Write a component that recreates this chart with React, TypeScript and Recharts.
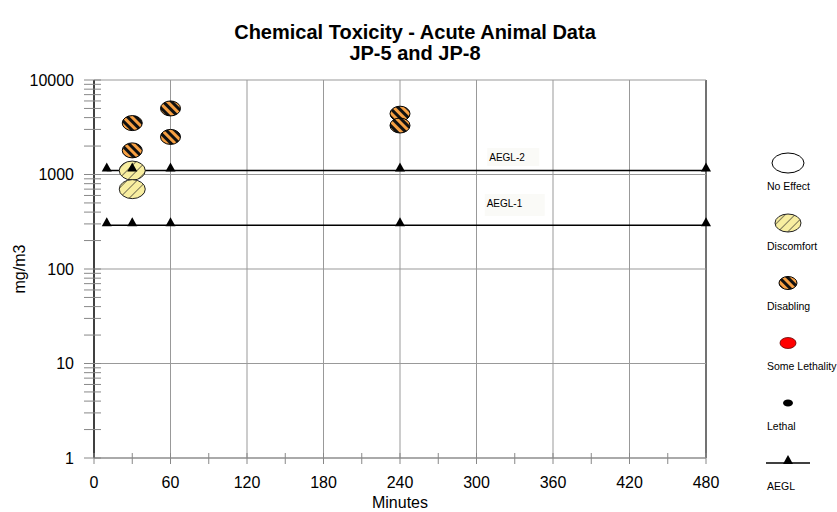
import React from "react";
import {
  ComposedChart,
  Scatter,
  Line,
  XAxis,
  YAxis,
  ReferenceLine,
  ReferenceDot,
} from "recharts";

// minutes / mg/m3
const aeglTimes = [10, 30, 60, 240, 480];
const aegl2Values = [1100, 1100, 1100, 1100, 1100];
const aegl1Values = [290, 290, 290, 290, 290];

const discomfortTimes = [30, 30];
const discomfortValues = [1100, 700];

const disablingTimes = [30, 30, 60, 60, 240, 240];
const disablingValues = [3500, 1800, 5000, 2500, 4400, 3300];

const xTicks = [0, 30, 60, 90, 120, 150, 180, 210, 240, 270, 300, 330, 360, 390, 420, 450, 480];
const xLabelTicks = [0, 60, 120, 180, 240, 300, 360, 420, 480];
const yMajorTicks = [1, 10, 100, 1000, 10000];
const yMinorSteps = [2, 3, 4, 5, 6, 7, 8, 9];

const legendNames = ["No Effect", "Discomfort", "Disabling", "Some Lethality", "Lethal", "AEGL"];

const aeglLabels = [
  { name: "AEGL-2", x: 310, y: 1530 },
  { name: "AEGL-1", x: 308, y: 500 },
];

const yTicks = yMajorTicks.flatMap((d) =>
  d < 10000 ? [d, ...yMinorSteps.map((s) => d * s)] : [d]
);

const zip = (xs: number[], ys: number[]) => xs.map((x, i) => ({ x, y: ys[i] }));
const aegl2Data = zip(aeglTimes, aegl2Values);
const aegl1Data = zip(aeglTimes, aegl1Values);
const discomfortData = zip(discomfortTimes, discomfortValues);
const disablingData = zip(disablingTimes, disablingValues);

const FONT = "Arial, 'Liberation Sans', sans-serif";

const Patterns = () => (
  <svg width={0} height={0} style={{ position: "absolute" }}>
    <defs>
      <pattern id="disablingFill" width={6} height={6} patternUnits="userSpaceOnUse" patternTransform="rotate(-45)">
        <rect width={6} height={6} fill="#f7a043" />
        <rect width={3} height={6} fill="#111" />
      </pattern>
      <pattern id="discomfortFill" width={7} height={7} patternUnits="userSpaceOnUse" patternTransform="rotate(45)">
        <rect width={7} height={7} fill="#f8eea0" />
        <rect width={1} height={7} fill="#7d7758" />
      </pattern>
    </defs>
  </svg>
);

const Disabling = ({ cx, cy }: any) => (
  <ellipse cx={cx} cy={cy} rx={10} ry={7.5} fill="url(#disablingFill)" stroke="#000" strokeWidth={1} />
);

const Discomfort = ({ cx, cy }: any) => (
  <ellipse cx={cx} cy={cy} rx={13} ry={9.5} fill="url(#discomfortFill)" stroke="#222" strokeWidth={1} />
);

const Triangle = ({ cx, cy }: any) => {
  if (cx == null || cy == null) return null;
  return <path d={`M${cx - 5},${cy + 1} L${cx + 5},${cy + 1} L${cx},${cy - 8} Z`} fill="#000" />;
};

const YTick = ({ x, y, payload }: any) => {
  const major = yMajorTicks.includes(payload.value);
  return (
    <g>
      <line x1={x - 10} x2={x + 7} y1={y} y2={y} stroke="#888" strokeWidth={1} />
      {major && (
        <text x={x - 20} y={y} dy={5.5} textAnchor="end" fontSize={16} fontFamily={FONT} fill="#000">
          {payload.value}
        </text>
      )}
    </g>
  );
};

const XTick = ({ x, y, payload }: any) => {
  const major = xLabelTicks.includes(payload.value);
  return (
    <g>
      <line x1={x} x2={x} y1={y - 5} y2={y + 6} stroke="#888" strokeWidth={1} />
      {major && (
        <text x={x} y={y + 30} textAnchor="middle" fontSize={16} fontFamily={FONT} fill="#000">
          {payload.value}
        </text>
      )}
    </g>
  );
};

const legendIcon = (name: string, cy: number) => {
  const cx = 28;
  switch (name) {
    case "No Effect":
      return <ellipse cx={cx} cy={cy} rx={16} ry={10} fill="#fff" stroke="#000" />;
    case "Discomfort":
      return <ellipse cx={cx} cy={cy} rx={13} ry={9} fill="url(#discomfortFill)" stroke="#222" />;
    case "Disabling":
      return <ellipse cx={cx} cy={cy} rx={9} ry={6.5} fill="url(#disablingFill)" stroke="#000" />;
    case "Some Lethality":
      return <ellipse cx={cx} cy={cy} rx={8} ry={5.5} fill="#f00" stroke="#600" strokeWidth={0.8} />;
    case "Lethal":
      return <ellipse cx={cx} cy={cy} rx={5} ry={3.5} fill="#000" />;
    default:
      return (
        <g>
          <line x1={6} x2={50} y1={cy} y2={cy} stroke="#000" strokeWidth={1.5} />
          <Triangle cx={cx} cy={cy} />
        </g>
      );
  }
};

const LegendBox = () => (
  <svg width={90} height={360} style={{ position: "absolute", left: 760, top: 150 }}>
    {legendNames.map((name, i) => {
      const cy = 13 + i * 60;
      return (
        <g key={name}>
          {legendIcon(name, cy)}
          <text x={7} y={cy + 27} fontSize={10.5} fontFamily={FONT} fill="#000">
            {name}
          </text>
        </g>
      );
    })}
  </svg>
);

const AeglLabel = ({ viewBox, value }: any) => {
  if (!viewBox) return null;
  const cx = viewBox.cx ?? viewBox.x + (viewBox.width || 0) / 2;
  const cy = viewBox.cy ?? viewBox.y + (viewBox.height || 0) / 2;
  const w = value === "AEGL-1" ? 60 : 52;
  return (
    <g>
      <rect x={cx - 2} y={cy - 9} width={w} height={value === "AEGL-1" ? 22 : 18} fill="#fafaf7" />
      <text x={cx} y={cy + 4} fontSize={10} fontFamily={FONT} fill="#000">
        {value}
      </text>
    </g>
  );
};

export default function App() {
  return (
    <div style={{ position: "absolute", left: 0, top: 0, width: 837, height: 512, background: "#fff", fontFamily: FONT }}>
      <Patterns />
      <div
        style={{
          position: "absolute",
          left: 0,
          top: 22,
          width: 830,
          textAlign: "center",
          fontWeight: "bold",
          fontSize: 20,
          lineHeight: "21px",
          color: "#000",
        }}
      >
        Chemical Toxicity - Acute Animal Data
        <br />
        JP-5 and JP-8
      </div>
      <ComposedChart width={837} height={512} margin={{ top: 80, right: 131, bottom: 4, left: 14 }}>
        {xLabelTicks.slice(1).map((t) => (
          <ReferenceLine key={"vx" + t} x={t} stroke={t === 480 ? "#444" : "#999"} strokeWidth={t === 480 ? 1.5 : 1} />
        ))}
        {yMajorTicks.map((t) => (
          <ReferenceLine key={"hy" + t} y={t} stroke="#999" strokeWidth={1} />
        ))}
        <XAxis
          type="number"
          dataKey="x"
          domain={[0, 480]}
          ticks={xTicks}
          interval={0}
          tick={<XTick />}
          tickSize={0}
          tickMargin={0}
          axisLine={{ stroke: "#888" }}
          tickLine={false}
          height={50}
          label={{ value: "Minutes", position: "insideBottom", offset: 0, fontSize: 16, fill: "#000", fontFamily: FONT }}
        />
        <YAxis
          type="number"
          dataKey="y"
          scale="log"
          domain={[1, 10000]}
          ticks={yTicks}
          interval={0}
          tick={<YTick />}
          tickSize={0}
          tickMargin={0}
          axisLine={{ stroke: "#000", strokeWidth: 1.5 }}
          tickLine={false}
          width={80}
          allowDataOverflow
          label={({ viewBox }: any) => (
            <text
              x={viewBox.x + 5}
              y={viewBox.y + viewBox.height / 2}
              transform={`rotate(-90 ${viewBox.x + 5} ${viewBox.y + viewBox.height / 2})`}
              textAnchor="middle"
              dominantBaseline="central"
              fontSize={16}
              fontFamily={FONT}
              fill="#000"
            >
              mg/m3
            </text>
          )}
        />
        <Scatter data={discomfortData} dataKey="y" shape={<Discomfort />} isAnimationActive={false} />
        <Scatter data={disablingData} dataKey="y" shape={<Disabling />} isAnimationActive={false} />
        <Line
          data={aegl2Data}
          dataKey="y"
          type="linear"
          stroke="#000"
          strokeWidth={1.5}
          dot={<Triangle />}
          activeDot={false}
          isAnimationActive={false}
        />
        <Line
          data={aegl1Data}
          dataKey="y"
          type="linear"
          stroke="#000"
          strokeWidth={1.5}
          dot={<Triangle />}
          activeDot={false}
          isAnimationActive={false}
        />
        {aeglLabels.map((l) => (
          <ReferenceDot key={l.name} x={l.x} y={l.y} r={0} stroke="none" label={<AeglLabel value={l.name} />} />
        ))}
      </ComposedChart>
      <LegendBox />
    </div>
  );
}
